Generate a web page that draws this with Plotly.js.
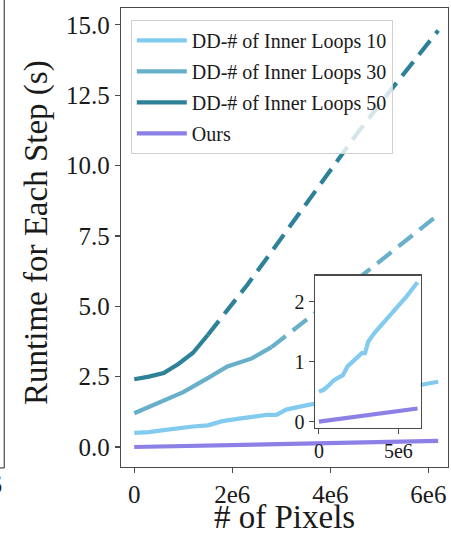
<!DOCTYPE html>
<html>
<head>
<meta charset="utf-8">
<script src="https://cdn.plot.ly/plotly-3.0.1.min.js"></script>
<style>
  html, body { margin: 0; padding: 0; background: #fff; overflow: hidden; }
  #chart { width: 451px; height: 537px; }
  #chart text { font-family: "Liberation Serif", "Times New Roman", serif !important; }
</style>
</head>
<body>
<div id="chart"></div>
<script>
// ---- data (x: number of pixels, y: runtime per step in seconds) ----
const seriesNames = ["DD-# of Inner Loops 10", "DD-# of Inner Loops 30", "DD-# of Inner Loops 50", "Ours"];
const xTitle = "# of Pixels";
const yTitle = "Runtime for Each Step (s)";

const dd10X = [0, 0.3e6, 0.6e6, 0.9e6, 1.2e6, 1.5e6, 1.8e6, 2.1e6, 2.4e6, 2.7e6, 2.9e6, 3.1e6, 3.5e6, 4.0e6, 4.5e6, 5.0e6, 5.5e6, 6.2e6];
const dd10Y = [0.50, 0.53, 0.60, 0.68, 0.73, 0.77, 0.92, 1.00, 1.08, 1.14, 1.14, 1.33, 1.48, 1.63, 1.78, 1.93, 2.08, 2.32];

const dd30SolidX = [0, 0.5e6, 1.0e6, 1.5e6, 1.9e6, 2.4e6, 2.8e6];
const dd30SolidY = [1.20, 1.57, 1.95, 2.45, 2.86, 3.15, 3.55];
const dd30DashX = [2.8e6, 3.2e6, 3.6e6, 4.0e6, 4.5e6, 5.0e6, 5.5e6, 6.2e6];
const dd30DashY = [3.55, 4.08, 4.64, 5.20, 5.90, 6.60, 7.30, 8.25];

const dd50SolidX = [0, 0.3e6, 0.6e6, 0.9e6, 1.2e6, 1.5e6];
const dd50SolidY = [2.41, 2.50, 2.63, 2.95, 3.35, 3.98];
const dd50DashX = [1.5e6, 1.9e6, 2.3e6, 2.7e6, 3.2e6, 3.65e6, 4.1e6, 4.55e6, 5.15e6, 5.65e6, 6.2e6];
const dd50DashY = [3.98, 4.85, 5.75, 6.70, 7.90, 9.00, 10.10, 11.15, 12.50, 13.60, 14.80];

const oursX = [0, 1.0e6, 2.0e6, 3.0e6, 4.0e6, 5.0e6, 6.2e6];
const oursY = [0.00, 0.035, 0.07, 0.105, 0.14, 0.175, 0.22];

const xTickVals = [0, 2e6, 4e6, 6e6];
const xTickText = ["0", "2e6", "4e6", "6e6"];
const yTickVals = [0, 2.5, 5, 7.5, 10, 12.5, 15];
const yTickText = ["0.0", "2.5", "5.0", "7.5", "10.0", "12.5", "15.0"];
const insetXTickVals = [0, 5e6];
const insetXTickText = ["0", "5e6"];
const insetYTickVals = [0, 1, 2];

// ---- styling ----
const colors = ["#82CBEF", "#68AFCA", "#2D8199", "#8C80E6"];
const LW = 4.2;
const DASH = "18px,9px";
const FONT = "Liberation Serif";
const FRAME = "#4a4a4a";

const traces = [
  { x: dd10X, y: dd10Y, name: seriesNames[0], legendgroup: "g1", mode: "lines",
    line: { color: colors[0], width: LW } },
  { x: dd30SolidX, y: dd30SolidY, name: seriesNames[1], legendgroup: "g2", mode: "lines",
    line: { color: colors[1], width: LW } },
  { x: dd30DashX, y: dd30DashY, name: seriesNames[1], legendgroup: "g2", showlegend: false, mode: "lines",
    line: { color: colors[1], width: LW, dash: DASH } },
  { x: dd50SolidX, y: dd50SolidY, name: seriesNames[2], legendgroup: "g3", mode: "lines",
    line: { color: colors[2], width: LW } },
  { x: dd50DashX, y: dd50DashY, name: seriesNames[2], legendgroup: "g3", showlegend: false, mode: "lines",
    line: { color: colors[2], width: LW, dash: DASH } },
  { x: oursX, y: oursY, name: seriesNames[3], legendgroup: "g4", mode: "lines",
    line: { color: colors[3], width: LW } },
  // inset
  { x: dd10X, y: dd10Y, xaxis: "x2", yaxis: "y2", showlegend: false, mode: "lines",
    line: { color: colors[0], width: LW } },
  { x: oursX, y: oursY, xaxis: "x2", yaxis: "y2", showlegend: false, mode: "lines",
    line: { color: colors[3], width: LW } }
];

const axisCommon = {
  showgrid: false, zeroline: false, showline: true, mirror: true,
  linecolor: FRAME, linewidth: 1.3, ticks: "outside", ticklen: 5,
  tickwidth: 1.2, tickcolor: FRAME, tickmode: "array"
};

const layout = {
  width: 451, height: 537,
  margin: { l: 121, r: 3, t: 8, b: 70 },
  paper_bgcolor: "#fff", plot_bgcolor: "#fff",
  font: { family: FONT, color: "#1a1a1a" },
  showlegend: true,
  legend: {
    x: 0.03, y: 0.974, xanchor: "left", yanchor: "top",
    bgcolor: "rgba(255,255,255,0.8)", bordercolor: "#d0d0d0", borderwidth: 1,
    font: { family: FONT, size: 20 },
    traceorder: "grouped", tracegroupgap: 2, itemwidth: 50
  },
  xaxis: Object.assign({}, axisCommon, {
    range: [-0.27e6, 6.40e6], tickvals: xTickVals, ticktext: xTickText,
    tickfont: { family: FONT, size: 25 }
  }),
  yaxis: Object.assign({}, axisCommon, {
    range: [-0.71, 15.6], tickvals: yTickVals, ticktext: yTickText,
    tickfont: { family: FONT, size: 25 }
  }),
  xaxis2: Object.assign({}, axisCommon, {
    domain: [0.593, 0.9165], anchor: "y2",
    range: [-0.25e6, 6.4e6], tickvals: insetXTickVals, ticktext: insetXTickText,
    tickfont: { family: FONT, size: 20 }
  }),
  yaxis2: Object.assign({}, axisCommon, {
    domain: [0.085, 0.4168], anchor: "x2",
    range: [-0.105, 2.43], tickvals: insetYTickVals,
    tickfont: { family: FONT, size: 20 }
  }),
  shapes: [
    // edge of the neighbouring panel on the left
    { type: "line", xref: "paper", yref: "paper", x0: -0.357, x1: -0.357, y0: -0.002, y1: 1.05,
      line: { color: "#555", width: 1.3 } },
    { type: "line", xref: "paper", yref: "paper", x0: -0.40, x1: -0.357, y0: -0.002, y1: -0.002,
      line: { color: "#555", width: 1.3 } }
  ],
  annotations: [
    { xref: "paper", yref: "paper", x: 0.5015, y: -0.1525, xanchor: "center", yanchor: "bottom",
      text: xTitle, showarrow: false, font: { family: FONT, size: 33 } },
    { xref: "paper", yref: "paper", x: -0.257, y: 0.512, xanchor: "center", yanchor: "middle",
      textangle: -90, text: yTitle, showarrow: false, font: { family: FONT, size: 33 } },
    { xref: "paper", yref: "paper", x: -0.357, y: -0.039, xanchor: "right", yanchor: "middle",
      text: "6e6", showarrow: false, font: { family: FONT, size: 25 } }
  ]
};

Plotly.newPlot("chart", traces, layout, { displayModeBar: false, staticPlot: true }).then(() => {
  document.querySelectorAll("#chart text").forEach(t => {
    t.style.fontFamily = '"Liberation Serif", serif';
  });
});
</script>
</body>
</html>
